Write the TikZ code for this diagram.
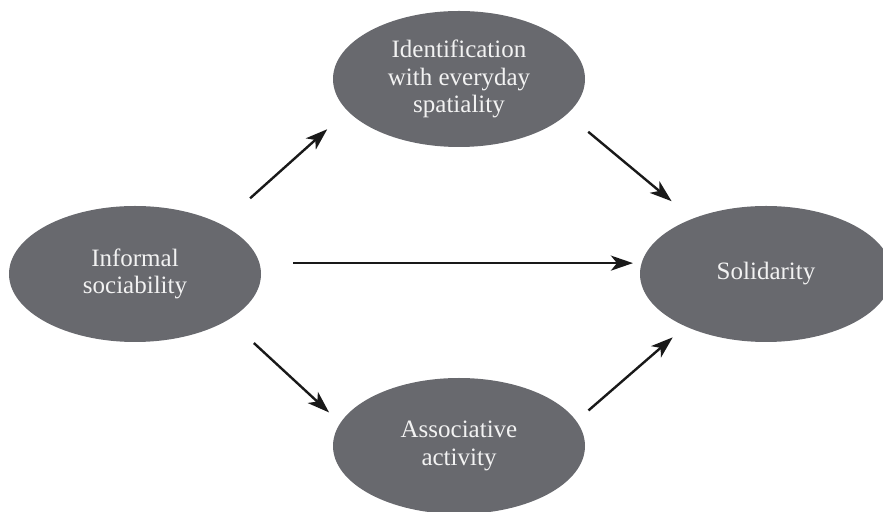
\documentclass[tikz,border=0pt]{standalone}
\usepackage{fontspec}
\setmainfont{Liberation Serif}
\usetikzlibrary{arrows.meta,shapes.geometric}
\definecolor{ovalgray}{RGB}{104,105,110}
\definecolor{ovaltext}{RGB}{242,242,242}

\begin{document}
\begin{tikzpicture}[
        x=0.5pt, y=-0.5pt,
        oval/.style={ellipse, fill=ovalgray, text=ovaltext, minimum width=126pt, minimum height=68pt,
          inner sep=0pt, outer sep=0pt, align=center, font=\fontsize{12.5}{13.75}\selectfont},
        arrow/.style={-{Stealth[length=11pt,width=7.5pt,inset=3pt]}, line width=1.2pt, black!90}
      ]
      \useasboundingbox (0,0) rectangle (883,512);

      % Source
      \node[oval] (informal) at (135,274) {Informal\\sociability};

      % Mediators
      \node[oval] (ident) at (459,79) {Identification\\with everyday\\spatiality};
      \node[oval] (assoc) at (459,446) {Associative\\activity};

      % Outcome
      \node[oval] (solid) at (766,274) {Solidarity};

      % Paths through the mediators
      \draw[arrow, shorten <=19.5pt, shorten >=13.75pt] (informal.30) -- (ident.196);
      \draw[arrow, shorten <=13.85pt, shorten >=13.7pt] (ident.342) -- (solid.143);
      \draw[arrow, shorten <=17.3pt, shorten >=7.75pt] (informal.334) -- (assoc.169);
      \draw[arrow, shorten <=8.1pt, shorten >=8.45pt] (assoc.12) -- (solid.213);

      % Direct path
      \draw[arrow, shorten <=16.85pt, shorten >=4.35pt] (informal.5) -- (solid.175);
    \end{tikzpicture}
\end{document}
